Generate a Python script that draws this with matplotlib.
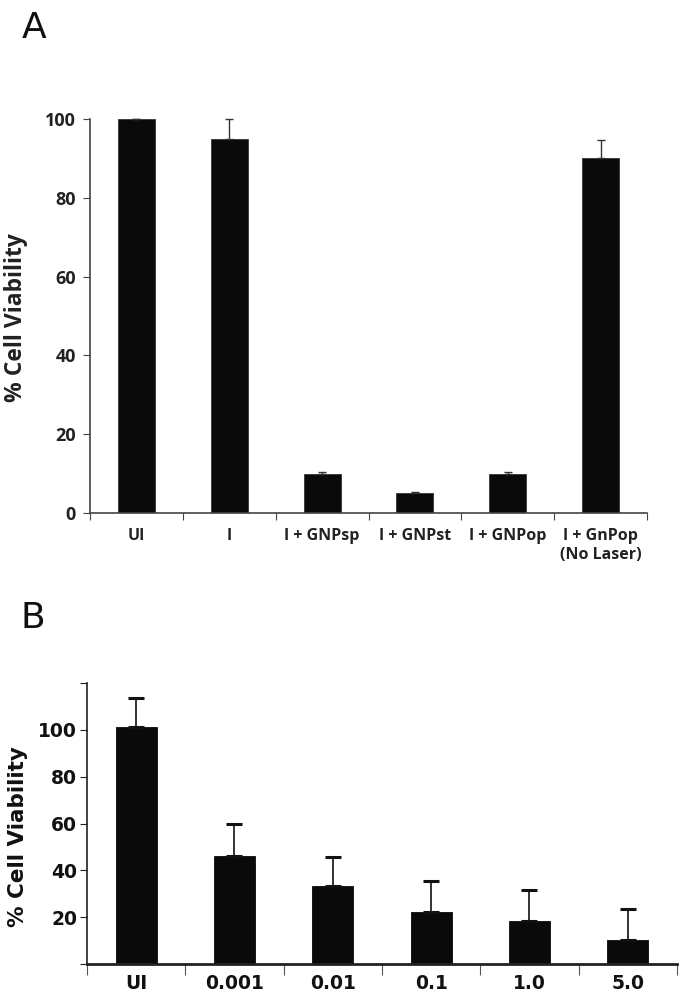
import numpy as np
import matplotlib.pyplot as plt

# panel A data
cats_a = ["UI", "I", "I + GNPsp", "I + GNPst", "I + GNPop", "I + GnPop\n(No Laser)"]
vals_a = [100, 95, 10, 5, 10, 90]
errs_a = [0, 5, 0.4, 0.4, 0.4, 4.6]

# panel B data
cats_b = ["UI", "0.001", "0.01", "0.1", "1.0", "5.0"]
vals_b = [101, 46, 33.5, 22, 18.4, 10.3]
errs_b = [12.5, 13.6, 12.4, 13.4, 13.2, 13.3]

W, H = 685, 997
fig = plt.figure(figsize=(W / 100, H / 100), dpi=100)


def box(l, t, r, b):
    return [l / W, 1 - b / H, (r - l) / W, (b - t) / H]


# ---- A ----
axA = fig.add_axes(box(90, 119, 647, 513))
xa = np.arange(len(cats_a))
axA.bar(xa, vals_a, width=0.4, color="#0a0a0a", edgecolor="#333333", linewidth=0.6)
axA.errorbar(xa, vals_a, yerr=[np.zeros(len(errs_a)), errs_a], fmt="none",
             ecolor="#333333", elinewidth=1, capsize=3, capthick=1, clip_on=False)
axA.set_xlim(-0.5, len(cats_a) - 0.5)
axA.set_ylim(0, 100)
for s in ["top", "right"]:
    axA.spines[s].set_visible(False)
for s in ["left", "bottom"]:
    axA.spines[s].set_color("#444444")
    axA.spines[s].set_linewidth(1.2)
axA.set_yticks([0, 20, 40, 60, 80, 100])
axA.set_yticklabels(["0", "20", "40", "60", "80", "100"], fontsize=13,
                    fontweight="bold", color="#222222", family="Open Sans")
axA.set_xticks(np.arange(len(cats_a) + 1) - 0.5, minor=False)
axA.set_xticklabels([])
axA.set_xticks(xa, minor=True)
axA.set_xticklabels(cats_a, minor=True, fontsize=11.5, fontweight="bold",
                    color="#222222", family="Open Sans", linespacing=1.2, va="top")
axA.tick_params(axis="x", which="minor", length=0, pad=11)
axA.tick_params(axis="x", which="major", length=5, direction="out", color="#444444")
axA.tick_params(axis="y", length=5, direction="out", color="#444444", pad=5)
axA.set_ylabel("% Cell Viability", fontsize=16.5, fontweight="bold",
               color="#222222", family="Open Sans")
axA.yaxis.set_label_coords(-0.112, 0.497)
fig.text(22 / W, 1 - 38 / H, "A", fontsize=26, color="#111111")

# ---- B ----
axB = fig.add_axes(box(87, 683, 677, 964))
xb = np.arange(len(cats_b))
axB.bar(xb, vals_b, width=0.42, color="#0a0a0a", edgecolor="#0a0a0a", linewidth=0.6)
axB.errorbar(xb, vals_b, yerr=[np.zeros(len(errs_b)), errs_b], fmt="none",
             ecolor="#111111", elinewidth=1.2, capsize=5.5, capthick=2.2)
axB.set_xlim(-0.5, len(cats_b) - 0.5)
axB.set_ylim(0, 120)
for s in ["top", "right"]:
    axB.spines[s].set_visible(False)
for s in ["left", "bottom"]:
    axB.spines[s].set_color("#222222")
axB.spines["left"].set_linewidth(1.2)
axB.spines["bottom"].set_linewidth(2)
axB.set_yticks([0, 20, 40, 60, 80, 100, 120])
axB.set_yticklabels(["", "20", "40", "60", "80", "100", ""], fontsize=13.5,
                    fontweight="bold", color="#111111")
axB.set_xticks(np.arange(len(cats_b) + 1) - 0.5)
axB.set_xticklabels([])
axB.set_xticks(xb, minor=True)
axB.set_xticklabels(cats_b, minor=True, fontsize=13.5, fontweight="bold", color="#111111")
axB.tick_params(axis="x", which="minor", length=0, pad=7)
axB.tick_params(axis="x", which="major", length=8, direction="out", color="#555555")
axB.tick_params(axis="y", length=5, direction="out", color="#222222", pad=2)
axB.set_ylabel("% Cell Viability", fontsize=15.5, fontweight="bold", color="#111111")
axB.yaxis.set_label_coords(-0.1, 0.452)
fig.text(20 / W, 1 - 628 / H, "B", fontsize=26, color="#111111")

fig.savefig("out.png", dpi=100)
